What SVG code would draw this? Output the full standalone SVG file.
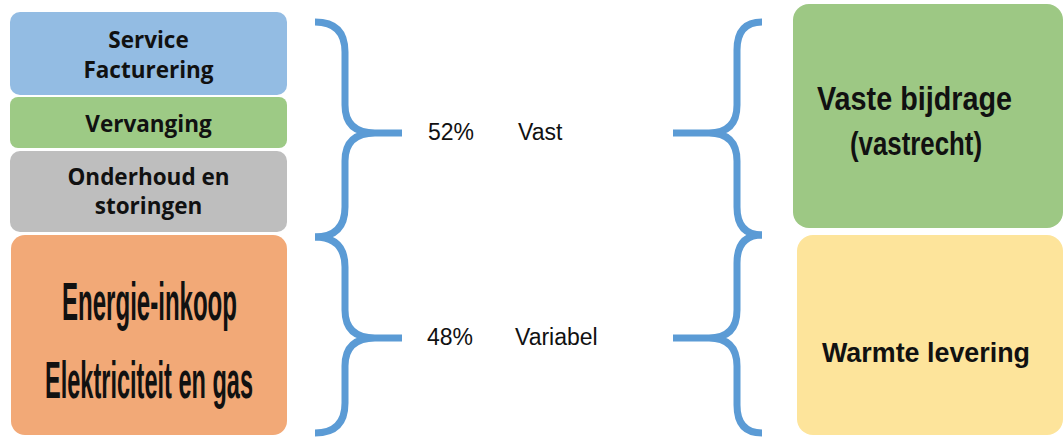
<svg xmlns="http://www.w3.org/2000/svg" width="1063" height="438" viewBox="0 0 1063 438">
<style>
.lbl{font-family:"Open Sans","Liberation Sans",sans-serif;font-weight:bold;fill:#111;text-anchor:middle;font-size:22.5px}
.big{font-family:"Liberation Sans",Arial,sans-serif;font-weight:bold;fill:#111;text-anchor:middle}
.mid{font-family:"Liberation Sans",Arial,sans-serif;font-size:23px;fill:#111}
.brace{fill:none;stroke:#5B9BD5;stroke-width:7}
</style>
<rect width="1063" height="438" fill="#ffffff"/>
<g id="service">
<rect x="10" y="12" width="277" height="83" rx="10" fill="#93BCE3"/>
<text class="lbl" x="148.5" y="48">Service</text>
<text class="lbl" x="148.5" y="78">Facturering</text>
</g>
<g id="vervanging">
<rect x="10" y="97" width="277" height="51" rx="8" fill="#9DCA85"/>
<text class="lbl" x="148.5" y="132">Vervanging</text>
</g>
<g id="onderhoud">
<rect x="10" y="151" width="277" height="81" rx="10" fill="#BEBEBE"/>
<text class="lbl" x="148.5" y="185">Onderhoud en</text>
<text class="lbl" x="148.5" y="214">storingen</text>
</g>
<g id="energie">
<rect x="11" y="235" width="276" height="200" rx="14" fill="#F2A977"/>
<text class="big" x="149.5" y="320" font-size="53" textLength="175" lengthAdjust="spacingAndGlyphs">Energie-inkoop</text>
<text class="big" x="149" y="398" font-size="52" textLength="208" lengthAdjust="spacingAndGlyphs">Elektriciteit en gas</text>
</g>
<g id="vaste">
<rect x="793" y="4" width="270" height="224" rx="16" fill="#9DC884"/>
<text class="big" x="914.5" y="110" font-size="34" textLength="195" lengthAdjust="spacingAndGlyphs">Vaste bijdrage</text>
<text class="big" x="916" y="155" font-size="34" textLength="132" lengthAdjust="spacingAndGlyphs">(vastrecht)</text>
</g>
<g id="warmte">
<rect x="797" y="235" width="266" height="200" rx="16" fill="#FDE49B"/>
<text class="big" x="926" y="362" font-size="28" textLength="208" lengthAdjust="spacingAndGlyphs">Warmte levering</text>
</g>
<g id="connectors">
<path class="brace" d="M315,22 Q345,22 345,52 L345,105 Q345,133 375,133 L402,133 M375,133 Q345,133 345,161 L345,207 Q345,237 315,237"/>
<path class="brace" d="M315,237 Q345,237 345,267 L345,310 Q345,338 375,338 L402,338 M375,338 Q345,338 345,366 L345,403 Q345,433 315,433"/>
<path class="brace" d="M762,22 Q737,22 737,50 L737,105 Q737,133 709,133 L673,133 M709,133 Q737,133 737,161 L737,207 Q737,235 762,235"/>
<path class="brace" d="M762,235 Q737,235 737,263 L737,310 Q737,338 709,338 L673,338 M709,338 Q737,338 737,366 L737,405 Q737,433 762,433"/>
</g>
<g id="labels">
<text class="mid" x="428" y="140">52%</text>
<text class="mid" x="518" y="140">Vast</text>
<text class="mid" x="427" y="345">48%</text>
<text class="mid" x="515" y="345">Variabel</text>
</g>
</svg>
